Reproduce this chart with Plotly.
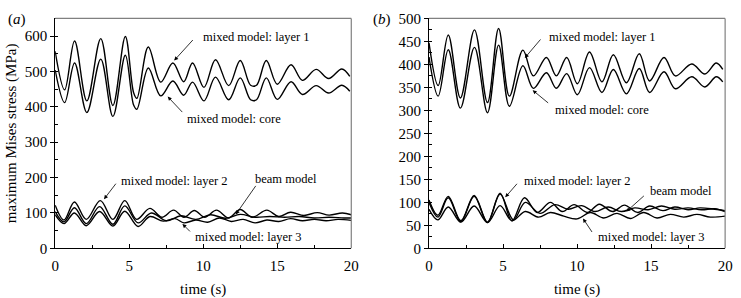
import plotly.graph_objects as go

# ---------------- data ----------------
# panel (a)
a_l1_t = [0, 0.64, 1.31, 2.14, 3.08, 3.9, 4.74, 5.3, 5.52, 6.29, 7.13, 7.95, 8.68, 9.28, 10.05, 10.83,
          11.72, 12.5, 13.2, 13.6, 14.26, 15.0, 15.93, 16.7, 17.63, 18.47, 19.36, 19.9]
a_l1_v = [557, 448, 586, 417, 593, 404, 599, 440, 424, 569, 470, 524, 471, 524, 455, 533,
          460, 531, 461, 461, 531, 464, 519, 475, 506, 480, 507, 486]
a_core_t = [0, 0.64, 1.31, 2.14, 3.08, 3.9, 4.74, 5.3, 5.52, 6.29, 7.13, 7.95, 8.68, 9.28, 10.05, 10.83,
            11.72, 12.5, 13.2, 13.6, 14.26, 15.0, 15.93, 16.7, 17.63, 18.47, 19.36, 19.9]
a_core_v = [504, 412, 524, 384, 535, 373, 546, 405, 393, 510, 431, 473, 433, 470, 417, 484,
            420, 482, 420, 420, 482, 421, 471, 435, 460, 439, 461, 444]
a_l2_t = [0, 0.6, 1.3, 2.1, 3.05, 3.9, 4.7, 5.5, 6.4, 7.2, 8.0, 8.7, 9.4, 10.1, 10.9, 11.7, 12.5,
          13.3, 14.3, 15.1, 15.9, 16.8, 17.7, 18.5, 19.4, 20]
a_l2_v = [122, 80, 131, 82, 135, 82, 135, 82, 113, 88, 108, 88, 107, 88, 108, 86, 110,
          88, 108, 90, 102, 93, 101, 94, 100, 95]
a_l3_t = [0, 0.6, 1.3, 2.1, 3.0, 3.9, 4.7, 5.6, 6.4, 7.3, 8.1, 8.7, 9.5, 10.3, 11.1, 11.9, 12.7,
          13.5, 14.3, 15.1, 15.9, 16.7, 17.5, 18.3, 19.1, 20]
a_l3_v = [95, 70, 100, 64, 104, 63, 105, 62, 90, 77, 84, 72, 80, 74, 86, 76, 82,
          72, 80, 76, 84, 78, 82, 78, 82, 79]
a_beam_t = [0, 0.6, 1.3, 2.1, 3.0, 3.9, 4.7, 5.6, 6.5, 7.5, 8.5, 9.5, 10.5, 11.5, 12.5, 13.5,
            14.5, 15.5, 16.5, 17.5, 18.5, 19.5, 20]
a_beam_v = [104, 75, 115, 70, 118, 68, 120, 72, 100, 78, 92, 82, 95, 85, 96, 88,
            90, 88, 90, 86, 88, 86, 86]

# panel (b)
b_l1_t = [0, 0.62, 1.3, 2.12, 3.07, 3.95, 4.7, 5.43, 6.34, 7.05, 7.93, 8.6, 9.3, 10.02, 10.84,
          11.68, 12.45, 13.33, 14.2, 14.9, 15.87, 16.64, 17.75, 18.63, 19.4, 19.84]
b_l1_v = [447, 354, 464, 327, 475, 317, 478, 331, 431, 375, 415, 375, 415, 358, 427,
          362, 421, 360, 423, 364, 415, 375, 401, 379, 403, 389]
b_core_t = [0, 0.62, 1.3, 2.12, 3.07, 3.95, 4.7, 5.43, 6.34, 7.05, 7.93, 8.6, 9.3, 10.02, 10.84,
            11.68, 12.45, 13.33, 14.2, 14.9, 15.87, 16.64, 17.75, 18.63, 19.4, 19.84]
b_core_v = [416, 331, 432, 305, 437, 295, 442, 309, 397, 348, 382, 348, 380, 334, 393,
            339, 389, 336, 391, 339, 384, 347, 373, 351, 373, 362]
b_l2_t = [0, 0.6, 1.3, 2.15, 3.05, 3.95, 4.8, 5.6, 6.45, 7.3, 8.2, 9.0, 9.8, 10.7, 11.5, 12.4,
          13.2, 14.1, 14.9, 15.8, 16.6, 17.5, 18.3, 19.3, 20]
b_l2_v = [105, 72, 113, 60, 115, 57, 120, 60, 110, 78, 100, 80, 95, 78, 96, 80,
          94, 78, 92, 82, 90, 84, 88, 85, 82]
b_l3_t = [0, 0.6, 1.3, 2.15, 3.05, 3.95, 4.8, 5.6, 6.5, 7.4, 8.2, 9.1, 10.0, 10.9, 11.8, 12.7,
          13.6, 14.5, 15.4, 16.3, 17.2, 18.1, 19.0, 20]
b_l3_v = [85, 62, 90, 57, 92, 56, 93, 60, 80, 68, 78, 70, 64, 78, 66, 76,
          65, 78, 66, 74, 68, 74, 68, 70]
b_beam_t = [0, 0.6, 1.3, 2.15, 3.05, 3.95, 4.8, 5.7, 6.5, 7.5, 8.5, 9.4, 10.3, 11.2, 12.1, 13.0,
            13.9, 14.8, 15.7, 16.6, 17.5, 18.4, 19.3, 20]
b_beam_v = [100, 68, 110, 58, 113, 56, 118, 62, 100, 76, 95, 85, 93, 80, 90, 80,
            88, 84, 92, 85, 88, 84, 86, 80]

x_ticks = [0, 5, 10, 15, 20]
a_y_ticks = [0, 100, 200, 300, 400, 500, 600]
b_y_ticks = [0, 50, 100, 150, 200, 250, 300, 350, 400, 450, 500]

# annotation labels: (text, text_x, text_y, tip_x, tip_y, ax, ay)
a_labels = [
    ("mixed model: layer 1", 9.83, 597, 8.04, 531, 20, -22),
    ("mixed model: core", 8.77, 365, 7.6, 429, 16, 17),
    ("mixed model: layer 2", 4.32, 189, 3.3, 139, 13, -17),
    ("beam model", 13.36, 197, 12.2, 96, 21, -30),
    ("mixed model: layer 3", 9.3, 32, 8.6, 69, 9, 9),
]
b_labels = [
    ("mixed model: layer 1", 7.99, 459, 6.47, 414, 17, -20),
    ("mixed model: core", 8.38, 301, 7.0, 344, 17, 14),
    ("mixed model: layer 2", 6.27, 146, 5.15, 111, 13, -15),
    ("beam model", 14.79, 125, 13.33, 80, 19, -17),
    ("mixed model: layer 3", 11.29, 25, 10.4, 65, 10, 15),
]

# ---------------- figure ----------------
FONT = "Liberation Serif"
fig = go.Figure()

def add_curve(t, v, xa, ya):
    fig.add_trace(go.Scatter(x=t, y=v, mode="lines", xaxis=xa, yaxis=ya,
                             line=dict(color="black", width=1.4, shape="spline", smoothing=1.0),
                             showlegend=False, hoverinfo="skip"))

for t, v in [(a_l1_t, a_l1_v), (a_core_t, a_core_v), (a_l2_t, a_l2_v), (a_l3_t, a_l3_v), (a_beam_t, a_beam_v)]:
    add_curve(t, v, "x", "y")
for t, v in [(b_l1_t, b_l1_v), (b_core_t, b_core_v), (b_l2_t, b_l2_v), (b_l3_t, b_l3_v), (b_beam_t, b_beam_v)]:
    add_curve(t, v, "x2", "y2")

W, H = 741, 298
ydom = [(H - 254) / H, (H - 11) / H]
axis_common = dict(showgrid=False, zeroline=False, showline=True, linecolor="black", linewidth=1,
                   tickcolor="black", tickfont=dict(family=FONT, size=15, color="black"))
x_common = dict(ticks="inside", ticklen=4, ticklabelstandoff=4,
                minor=dict(dtick=2.5, ticks="inside", ticklen=3, tickcolor="black"),
                title=dict(text="time (s)", font=dict(family=FONT, size=15), standoff=12))

fig.update_layout(
    width=W, height=H, margin=dict(l=0, r=0, t=0, b=0),
    paper_bgcolor="white", plot_bgcolor="white",
    font=dict(family=FONT, color="black"),
    xaxis=dict(domain=[52 / W, 353 / W], range=[0, 20], tickvals=x_ticks, anchor="y",
               **x_common, **axis_common),
    yaxis=dict(domain=ydom, range=[0, 650], tickvals=a_y_ticks, anchor="x",
               ticks="outside", ticklen=4,
               minor=dict(dtick=50, ticks="inside", ticklen=3, tickcolor="black"),
               title=dict(text="maximum Mises stress (MPa)", font=dict(family=FONT, size=15), standoff=4),
               **axis_common),
    xaxis2=dict(domain=[432 / W, 733 / W], range=[0, 20], tickvals=x_ticks, anchor="y2",
                **x_common, **axis_common),
    yaxis2=dict(domain=ydom, range=[0, 500], tickvals=b_y_ticks, anchor="x2",
                ticks="outside", ticklen=4,
                minor=dict(dtick=25, ticks="inside", ticklen=3, tickcolor="black"),
                **axis_common),
)

# gray top/right frame lines
for xr, yr in [("x domain", "y domain"), ("x2 domain", "y2 domain")]:
    fig.add_shape(type="line", xref=xr, yref=yr, x0=0, x1=1, y0=1, y1=1,
                  line=dict(color="#808080", width=1.2))
    fig.add_shape(type="line", xref=xr, yref=yr, x0=1, x1=1, y0=0, y1=1,
                  line=dict(color="#808080", width=1.2))

def add_labels(labels, xa, ya):
    for text, tx, ty, px, py, ax, ay in labels:
        fig.add_annotation(x=tx, y=ty, xref=xa, yref=ya, text=text, showarrow=False,
                           xanchor="left", yanchor="middle",
                           font=dict(family=FONT, size=12.5, color="black"))
        fig.add_annotation(x=px, y=py, xref=xa, yref=ya, text="", showarrow=True,
                           ax=ax, ay=ay, arrowhead=2, arrowsize=1, arrowwidth=0.8,
                           arrowcolor="black", standoff=0)

add_labels(a_labels, "x", "y")
add_labels(b_labels, "x2", "y2")

fig.add_annotation(x=2 / W, y=1 - 12 / H, xref="paper", yref="paper", text="(<i>a</i>)",
                   showarrow=False, xanchor="left", yanchor="middle",
                   font=dict(family=FONT, size=15, color="black"))
fig.add_annotation(x=373 / W, y=1 - 12 / H, xref="paper", yref="paper", text="(<i>b</i>)",
                   showarrow=False, xanchor="left", yanchor="middle",
                   font=dict(family=FONT, size=15, color="black"))

fig.write_html("out.html", config={"displayModeBar": False},
               post_script="document.body.style.margin='0';document.body.style.padding='0';")
